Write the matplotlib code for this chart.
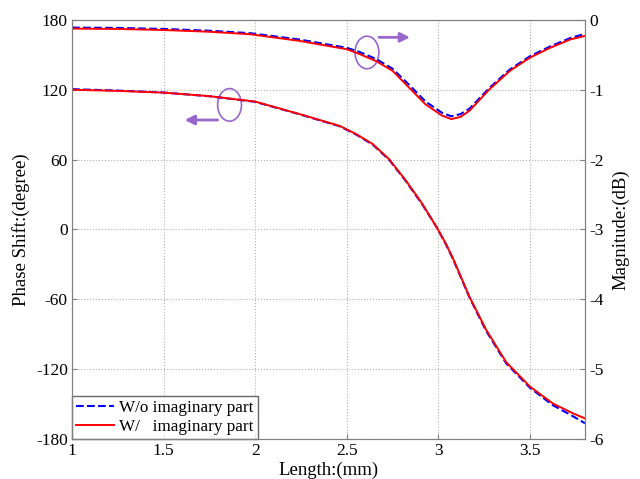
import numpy as np
from matplotlib import pyplot as plt
from matplotlib.patches import Ellipse

plt.rcParams['font.family'] = ['Liberation Serif', 'DejaVu Serif']
plt.rcParams['axes.unicode_minus'] = False

# datos: fase (eje izquierdo)
length_ph = [1.0, 1.25, 1.5, 1.75, 2.0, 2.24, 2.46, 2.55, 2.64, 2.73, 2.82, 2.91, 2.99,
             3.04, 3.08, 3.17, 3.26, 3.37, 3.5, 3.625, 3.735, 3.8]
phase_wo = [120.5, 119.3, 117.6, 114.4, 109.6, 99.0, 88.7, 81.6, 73.0, 60.0, 42.0, 22.0, 2.0,
            -12.5, -25.5, -58.5, -87.0, -115.0, -136.0, -151.0, -160.5, -166.5]
phase_w = [120.0, 119.0, 117.5, 114.5, 109.8, 99.2, 89.0, 82.0, 73.5, 60.5, 42.5, 22.5, 2.0,
           -12.0, -25.0, -58.0, -86.0, -114.0, -135.0, -149.5, -158.0, -162.3]

# magnitud (eje derecho)
length_mag = [1.0, 1.25, 1.5, 1.75, 1.97, 2.24, 2.5, 2.57, 2.66, 2.75, 2.84, 2.93, 3.02,
              3.07, 3.12, 3.17, 3.28, 3.39, 3.5, 3.61, 3.72, 3.8]
mag_wo = [-0.11, -0.115, -0.13, -0.155, -0.19, -0.28, -0.40, -0.46, -0.56, -0.70, -0.93,
          -1.17, -1.33, -1.38, -1.35, -1.27, -0.97, -0.71, -0.52, -0.38, -0.26, -0.20]
mag_w = [-0.125, -0.13, -0.145, -0.17, -0.205, -0.30, -0.42, -0.49, -0.59, -0.73, -0.97,
         -1.21, -1.37, -1.42, -1.39, -1.30, -0.99, -0.73, -0.54, -0.40, -0.28, -0.23]

fig = plt.figure(figsize=(6.4, 4.79), dpi=100)
ax1 = fig.add_axes([0.1125, 0.0835, 0.8015, 0.875])
ax2 = ax1.twinx()

l1, = ax1.plot(length_ph, phase_wo, '--', color='blue', lw=1.5)
l2, = ax1.plot(length_ph, phase_w, '-', color='red', lw=1.4)
ax2.plot(length_mag, mag_wo, '--', color='blue', lw=1.5)
ax2.plot(length_mag, mag_w, '-', color='red', lw=1.4)

ax1.set_xlim(1, 3.8)
ax1.set_ylim(-180, 180)
ax1.set_yticks(range(-180, 181, 60))
ax1.set_xticks([1, 1.5, 2, 2.5, 3, 3.5])
ax1.set_xticklabels(['1', '1.5', '2', '2.5', '3', '3.5'])
ax2.set_ylim(-6, 0)
ax2.set_yticks(range(-6, 1))

ax1.grid(True, linestyle=':', color='#b0b0b0', lw=0.8)
for a in (ax1, ax2):
    a.tick_params(direction='in', labelsize=12.5, color='#808080', pad=3)
    for s in a.spines.values():
        s.set_color('#808080')

ax1.set_xlabel('Length:(mm)', fontsize=13.5, labelpad=2)
ax1.set_ylabel('Phase Shift:(degree)', fontsize=13.5, labelpad=4)
ax2.set_ylabel('Magnitude:(dB)', fontsize=13.5, labelpad=6)

# marcas de los ejes
purple = '#9966cc'
ax1.add_patch(Ellipse((1.86, 107), 0.13, 28, fill=False, edgecolor=purple, lw=1.2))
ax1.annotate('', xy=(1.6, 94), xytext=(1.81, 94),
             arrowprops=dict(arrowstyle='-|>', color=purple, lw=2, mutation_scale=14))
ax1.add_patch(Ellipse((2.61, 152), 0.13, 28, fill=False, edgecolor=purple, lw=1.2))
ax1.annotate('', xy=(2.86, 165), xytext=(2.66, 165),
             arrowprops=dict(arrowstyle='-|>', color=purple, lw=2, mutation_scale=14))

leg = ax1.legend([l1, l2], ['W/o imaginary part', 'W/   imaginary part'],
                 loc='lower left', fontsize=12.3, fancybox=False, borderaxespad=0,
                 handlelength=2.2, handletextpad=0.3, borderpad=0.25, labelspacing=0.15)
leg.get_frame().set_edgecolor('#404040')
leg.get_frame().set_linewidth(1.0)

plt.savefig('out.png')
